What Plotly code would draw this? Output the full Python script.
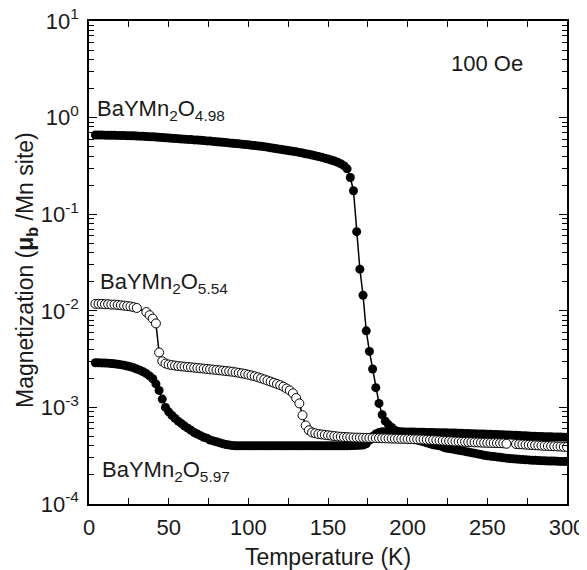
import plotly.graph_objects as go

# Temperature grid (K)
T = [4, 6, 8, 10, 12, 14, 16, 18, 20, 22, 24, 26, 28, 30, 32, 34, 36, 38, 40, 42,
     44, 46, 48, 50, 52, 54, 56, 58, 60, 62, 64, 66, 68, 70, 72, 74, 76, 78, 80, 82,
     84, 86, 88, 90, 92, 94, 96, 98, 100, 102, 104, 106, 108, 110, 112, 114, 116, 118, 120, 122,
     124, 126, 128, 130, 132, 134, 136, 138, 140, 142, 144, 146, 148, 150, 152, 154, 156, 158, 160, 162,
     164, 166, 168, 170, 172, 174, 176, 178, 180, 182, 184, 186, 188, 190, 192, 194, 196, 198, 200, 202,
     204, 206, 208, 210, 212, 214, 216, 218, 220, 222, 224, 226, 228, 230, 232, 234, 236, 238, 240, 242,
     244, 246, 248, 250, 252, 254, 256, 258, 260, 262, 264, 266, 268, 270, 272, 274, 276, 278, 280, 282,
     284, 286, 288, 290, 292, 294, 296, 298, 300]

# BaYMn2O4.98 (filled)
M_498 = [0.660, 0.660, 0.659, 0.658, 0.657, 0.656, 0.655, 0.654, 0.653, 0.651, 0.650, 0.648, 0.647, 0.645, 0.643, 0.641, 0.638, 0.635, 0.632, 0.629,
         0.626, 0.622, 0.619, 0.615, 0.612, 0.608, 0.605, 0.601, 0.598, 0.595, 0.592, 0.588, 0.585, 0.582, 0.578, 0.574, 0.571, 0.567, 0.563, 0.559,
         0.555, 0.551, 0.547, 0.543, 0.539, 0.535, 0.531, 0.527, 0.522, 0.518, 0.514, 0.509, 0.505, 0.500, 0.494, 0.488, 0.482, 0.476, 0.470, 0.465,
         0.459, 0.453, 0.448, 0.442, 0.436, 0.430, 0.423, 0.417, 0.410, 0.403, 0.395, 0.388, 0.380, 0.372, 0.364, 0.355, 0.345, 0.333, 0.318, 0.295,
         0.240, 0.175, 0.066, 0.027, 0.0145, 0.0062, 0.0038, 0.0025, 0.0016, 0.00110, 0.00084, 0.00072, 0.00066, 0.00062, 0.00058, 0.00056, 0.00053, 0.00051, 0.00049, 0.00048,
         0.00047, 0.00046, 0.00045, 0.00044, 0.00043, 0.00042, 0.00041, 0.000405, 0.00040, 0.00039, 0.00038, 0.000375, 0.00037, 0.000365, 0.00036, 0.000355, 0.00035, 0.000345, 0.00034, 0.000335,
         0.00033, 0.000325, 0.00032, 0.000316, 0.000313, 0.00031, 0.000307, 0.000304, 0.000301, 0.000298, 0.000296, 0.000294, 0.000292, 0.00029, 0.000288, 0.000287, 0.000286, 0.000284, 0.000283, 0.000282,
         0.000281, 0.00028, 0.000279, 0.000278, 0.000278, 0.000277, 0.000276, 0.000276, 0.000275]

# BaYMn2O5.54 (open)
M_554 = [0.0118, 0.0118, 0.0118, 0.0117, 0.0117, 0.0116, 0.0116, 0.0115, 0.0114, 0.0113, 0.0112, 0.0111, 0.0109, 0.0107, None, None, 0.0097, 0.0090, 0.0083, 0.0074,
         0.0037, 0.0030, 0.00285, 0.00278, 0.00274, 0.00271, 0.00268, 0.00266, 0.00264, 0.00262, 0.00260, 0.00258, 0.00256, 0.00254, 0.00252, 0.00250, 0.00248, 0.00246, 0.00244, 0.00242,
         0.00240, 0.00238, 0.00236, 0.00234, 0.00231, 0.00228, 0.00225, 0.00222, 0.00218, 0.00214, 0.00210, 0.00205, 0.00200, 0.00195, 0.00190, 0.00185, 0.00180, 0.00175, 0.00170, 0.00164,
         0.00157, 0.00150, 0.00140, 0.00125, 0.00110, 0.00083, 0.00065, 0.00058, 0.00055, 0.00054, 0.00053, 0.000525, 0.00052, 0.000515, 0.00051, 0.000505, 0.0005, 0.000497, 0.000494, 0.000492,
         0.00049, 0.000488, 0.000487, 0.000486, 0.000485, 0.000484, 0.000483, 0.000482, 0.000481, 0.00048, 0.000479, 0.000478, 0.000477, 0.000476, 0.000475, 0.000474, 0.000473, 0.000472, 0.00047, 0.000469,
         0.000468, 0.000467, 0.000466, 0.000465, 0.000463, 0.000461, 0.000459, 0.000457, 0.000455, 0.000452, 0.00045, 0.000448, 0.000446, 0.000444, 0.000443, 0.000441, 0.00044, 0.000438, 0.000437, 0.000435,
         0.000434, 0.000432, 0.000431, 0.00043, 0.000429, 0.000428, 0.000427, 0.000426, 0.000425, 0.00042, None, None, 0.000418, 0.000416, 0.000414, 0.000412, 0.00041, 0.000408, 0.000406, 0.000404,
         0.000402, 0.0004, 0.000399, 0.000397, 0.000396, 0.000394, 0.000393, 0.000391, 0.00039]

# BaYMn2O5.97 (filled)
M_597 = [0.00290, 0.00290, 0.00289, 0.00288, 0.00287, 0.00285, 0.00283, 0.00280, 0.00277, 0.00273, 0.00268, 0.00263, 0.00257, 0.00250, 0.00243, 0.00234, 0.00224, 0.00212, 0.00198, 0.00175,
         0.00150, 0.00122, 0.00100, 0.00090, 0.00083, 0.00077, 0.00072, 0.00068, 0.00064, 0.00061, 0.00058, 0.00055, 0.00053, 0.00051, 0.00049, 0.00048, 0.00046, 0.00045, 0.00044, 0.00043,
         0.000420, 0.000413, 0.000407, 0.000403, 0.000401, 0.0004, 0.0004, 0.0004, 0.0004, 0.0004, 0.0004, 0.0004, 0.0004, 0.0004, 0.0004, 0.0004, 0.0004, 0.0004, 0.0004, 0.0004,
         0.0004, 0.0004, 0.0004, 0.0004, 0.0004, 0.0004, 0.0004, 0.0004, 0.0004, 0.0004, 0.0004, 0.0004, 0.0004, 0.0004, 0.0004, 0.0004, 0.0004, 0.0004, 0.000401, 0.000401,
         0.000402, 0.000403, 0.000404, 0.000405, 0.000407, 0.00042, 0.00046, 0.00050, 0.00053, 0.00055, 0.00056, 0.00056, 0.00056, 0.00056, 0.00056, 0.00056, 0.000559, 0.000558, 0.000557, 0.000556,
         0.000555, 0.000554, 0.000553, 0.000552, 0.000551, 0.00055, 0.000549, 0.000548, 0.000547, 0.000546, 0.000545, 0.000544, 0.000543, 0.000542, 0.000541, 0.00054, 0.000538, 0.000537, 0.000535, 0.000534,
         0.000532, 0.000531, 0.000529, 0.000528, 0.000526, 0.000525, 0.000523, 0.000522, 0.00052, 0.000519, 0.000517, 0.000515, 0.000514, 0.000512, 0.00051, 0.000508, 0.000506, 0.000504, 0.000503, 0.000501,
         0.0005, 0.000498, 0.000497, 0.000496, 0.000495, 0.000494, 0.000493, 0.000492, 0.00049]

# Y tick values and labels
Y_TICKVALS = [1e-4, 1e-3, 1e-2, 1e-1, 1e0, 1e1]
Y_TICKTEXT = ["10<sup>-4</sup>", "10<sup>-3</sup>", "10<sup>-2</sup>",
              "10<sup>-1</sup>", "10<sup>0</sup>", "10<sup>1</sup>"]

FONT = "Liberation Sans, Arial, sans-serif"
INK = "#1a1a1a"

fig = go.Figure()
fig.add_trace(go.Scatter(x=T, y=M_498, mode="lines+markers", name="BaYMn2O4.98",
                         line=dict(color="black", width=1.5),
                         marker=dict(symbol="circle", size=9, color="black")))
fig.add_trace(go.Scatter(x=T, y=M_597, mode="lines+markers", name="BaYMn2O5.97",
                         line=dict(color="black", width=1.5),
                         marker=dict(symbol="circle", size=9, color="black")))
fig.add_trace(go.Scatter(x=T, y=M_554, mode="lines+markers", name="BaYMn2O5.54",
                         connectgaps=True,
                         line=dict(color="black", width=1.5),
                         marker=dict(symbol="circle", size=9, color="white",
                                     line=dict(color="black", width=1))))

ann_font = dict(family=FONT, size=22, color=INK)
fig.add_annotation(x=0.012, y=0.816, xref="paper", yref="paper", xanchor="left", yanchor="middle",
                   text="BaYMn<sub>2</sub>O<sub>4.98</sub>", showarrow=False, font=ann_font)
fig.add_annotation(x=0.018, y=0.458, xref="paper", yref="paper", xanchor="left", yanchor="middle",
                   text="BaYMn<sub>2</sub>O<sub>5.54</sub>", showarrow=False, font=ann_font)
fig.add_annotation(x=0.022, y=0.068, xref="paper", yref="paper", xanchor="left", yanchor="middle",
                   text="BaYMn<sub>2</sub>O<sub>5.97</sub>", showarrow=False, font=ann_font)
fig.add_annotation(x=0.8316, y=0.911, xref="paper", yref="paper", xanchor="center", yanchor="middle",
                   text="100 Oe", showarrow=False, font=ann_font)
# y-axis title
fig.add_annotation(x=-0.1297, y=0.4845, xref="paper", yref="paper", xanchor="center", yanchor="middle",
                   textangle=-90, showarrow=False,
                   text="Magnetization (<b>μ<sub>b</sub></b> /Mn site)",
                   font=dict(family=FONT, size=23, color=INK))

# page body has an 8px default margin: figure is sized to fit the window
fig.update_layout(
    width=579, height=562,
    margin=dict(l=81, r=20, t=13, b=66),
    paper_bgcolor="white", plot_bgcolor="white",
    showlegend=False,
    font=dict(family=FONT, color=INK),
)
fig.update_xaxes(
    range=[0, 300], dtick=50, tick0=0,
    ticks="inside", ticklen=6, tickwidth=1.2, tickcolor="black",
    minor=dict(ticks="inside", dtick=25, ticklen=6, tickwidth=1.2, tickcolor="black"),
    showline=True, linecolor="black", linewidth=1.5, mirror="ticks",
    showgrid=False, zeroline=False,
    tickfont=dict(family=FONT, size=22, color=INK),
    ticklabelstandoff=3, ticklabeloverflow="allow",
    title=dict(text="Temperature (K)", font=dict(family=FONT, size=23, color=INK), standoff=12),
    automargin=False,
)
fig.update_yaxes(
    type="log", range=[-4, 1],
    tickmode="array", tickvals=Y_TICKVALS, ticktext=Y_TICKTEXT,
    ticks="inside", ticklen=8, tickwidth=1.2, tickcolor="black",
    minor=dict(ticks="inside", dtick="D1", ticklen=5, tickwidth=1, tickcolor="black"),
    showline=True, linecolor="black", linewidth=1.5, mirror="ticks",
    showgrid=False, zeroline=False,
    tickfont=dict(family=FONT, size=22, color=INK),
    ticklabelstandoff=4, ticklabeloverflow="allow",
    automargin=False,
)

fig.write_html("out.html")
